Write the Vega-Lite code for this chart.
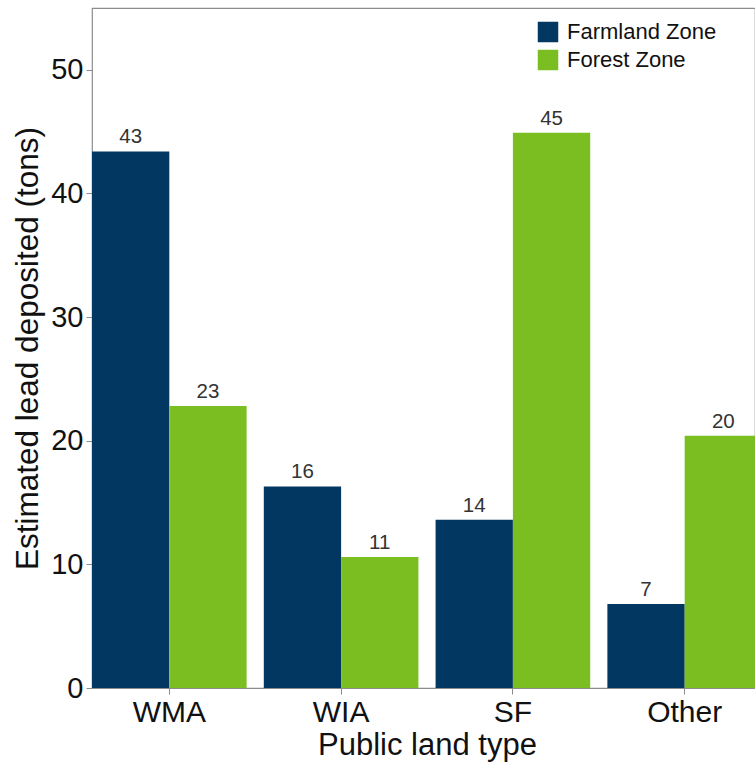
{
  "$schema": "https://vega.github.io/schema/vega-lite/v6.json",
  "width": 663,
  "height": 680,
  "autosize": {"type": "none"},
  "padding": {"left": 92, "top": 8, "right": 0, "bottom": 77},
  "background": "white",
  "config": {
    "font": "Liberation Sans",
    "view": {"stroke": "#8c8c8c", "strokeWidth": 1.2},
    "axis": {"grid": false, "domainColor": "#8c8c8c", "tickColor": "#8c8c8c", "labelColor": "#111111", "titleColor": "#111111", "titleFontWeight": "normal"}
  },
  "data": {
    "values": [
      {"type": "WMA", "zone": "Farmland Zone", "value": 43.4},
      {"type": "WMA", "zone": "Forest Zone", "value": 22.8},
      {"type": "WIA", "zone": "Farmland Zone", "value": 16.3},
      {"type": "WIA", "zone": "Forest Zone", "value": 10.6},
      {"type": "SF", "zone": "Farmland Zone", "value": 13.6},
      {"type": "SF", "zone": "Forest Zone", "value": 44.9},
      {"type": "Other", "zone": "Farmland Zone", "value": 6.8},
      {"type": "Other", "zone": "Forest Zone", "value": 20.4}
    ]
  },
  "encoding": {
    "x": {
      "field": "type", "type": "nominal", "sort": ["WMA", "WIA", "SF", "Other"],
      "scale": {"range": [0, 670], "paddingInner": 0.1, "paddingOuter": 0},
      "axis": {"title": "Public land type", "labelAngle": 0, "labelFontSize": 30, "titleFontSize": 31, "labelPadding": 3, "titlePadding": 3, "tickSize": 6, "domain": false}
    },
    "xOffset": {"field": "zone", "type": "nominal", "sort": ["Farmland Zone", "Forest Zone"]},
    "y": {
      "field": "value", "type": "quantitative",
      "scale": {"domain": [0, 55], "nice": false},
      "axis": {"title": "Estimated lead deposited (tons)", "values": [0, 10, 20, 30, 40, 50], "labelFontSize": 29, "titleFontSize": 31.5, "labelPadding": 3, "titlePadding": 6, "tickSize": 6, "domain": false}
    }
  },
  "layer": [
    {
      "mark": {"type": "bar"},
      "encoding": {
        "color": {
          "field": "zone", "type": "nominal",
          "scale": {"domain": ["Farmland Zone", "Forest Zone"], "range": ["#023761", "#7abe22"]},
          "legend": {"title": null, "orient": "none", "legendX": 445, "legendY": 13, "symbolType": "square", "symbolSize": 420, "symbolStrokeWidth": 0, "symbolOpacity": 1, "labelFontSize": 22, "labelColor": "#111111", "rowPadding": 6, "labelOffset": 8}
        }
      }
    },
    {
      "mark": {"type": "text", "baseline": "bottom", "dy": -4, "fontSize": 20.5, "color": "#333333"},
      "encoding": {"text": {"field": "value", "type": "quantitative", "format": ".0f"}}
    }
  ]
}
